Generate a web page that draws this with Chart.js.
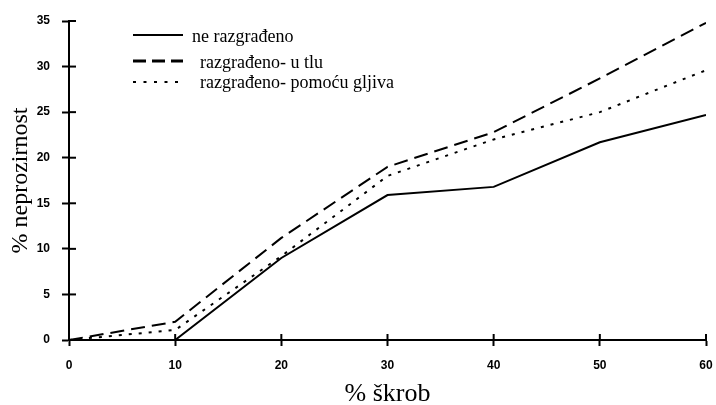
<!DOCTYPE html>
<html>
<head>
<meta charset="utf-8">
<script src="https://cdn.jsdelivr.net/npm/chart.js@4"></script>
<style>
  html, body { margin: 0; padding: 0; background: #fff; }
  #wrap { width: 716px; height: 405px; }
</style>
</head>
<body>
<div id="wrap"><canvas id="lineChart" width="716" height="405"></canvas></div>
<script>
// % škrob
const xValues = [0, 10, 20, 30, 40, 50, 60];
const seriesNames = ['ne razgrađeno', 'razgrađeno- u tlu', 'razgrađeno- pomoću gljiva'];
const neRazgradeno = [0, 0, 9.0, 15.9, 16.8, 21.7, 24.7];
const uTlu = [0, 2.0, 11.2, 19.0, 22.8, 28.7, 34.8];
const pomocuGljiva = [0, 1.1, 9.2, 18.0, 22.0, 25.0, 29.6];
const yTicks = [0, 5, 10, 15, 20, 25, 30, 35];

const dashes = [[], [14, 7], [3, 7]];
const serif = '"Liberation Serif", "Times New Roman", serif';

// tick marks that cross the axis, plus the legend in the upper left
const axisExtras = {
  id: 'axisExtras',
  afterDraw(chart) {
    const ctx = chart.ctx;
    const xs = chart.scales.x, ys = chart.scales.y;
    const area = chart.chartArea;
    ctx.save();
    ctx.strokeStyle = '#000';
    ctx.lineWidth = 2;
    yTicks.forEach(v => {
      const py = ys.getPixelForValue(v);
      ctx.beginPath();
      ctx.moveTo(area.left, py);
      ctx.lineTo(area.left + 7, py);
      ctx.stroke();
    });
    xValues.forEach(v => {
      const px = xs.getPixelForValue(v);
      ctx.beginPath();
      ctx.moveTo(px, area.bottom);
      ctx.lineTo(px, area.bottom - 6);
      ctx.stroke();
    });

    // legend
    const lineRows = [35, 61, 82];
    const textRows = [37, 63, 83];
    const textX = [192, 200, 200];
    ctx.font = '18px ' + serif;
    ctx.fillStyle = '#000';
    ctx.textBaseline = 'middle';
    chart.data.datasets.forEach((ds, i) => {
      ctx.setLineDash(i === 1 ? [13, 6] : i === 2 ? [3, 7.5] : []);
      ctx.lineWidth = i === 1 ? 3 : 2;
      ctx.beginPath();
      ctx.moveTo(133, lineRows[i]);
      ctx.lineTo(183, lineRows[i]);
      ctx.stroke();
      ctx.setLineDash([]);
      ctx.fillText(ds.label, textX[i], textRows[i]);
    });
    ctx.restore();
  }
};

const ctx = document.getElementById('lineChart').getContext('2d');

const chart = new Chart(ctx, {
  type: 'line',
  data: {
    datasets: [neRazgradeno, uTlu, pomocuGljiva].map((vals, i) => ({
      label: seriesNames[i],
      data: xValues.map((x, j) => ({ x: x, y: vals[j] })),
      borderColor: '#000',
      borderWidth: 2,
      borderDash: dashes[i],
      pointRadius: 0,
      tension: 0,
      fill: false,
    })),
  },
  options: {
    responsive: false,
    animation: false,
    layout: { padding: { left: 6, right: 10, top: 21, bottom: 0 } },
    plugins: {
      legend: { display: false },
      tooltip: { enabled: false },
    },
    scales: {
      x: {
        type: 'linear',
        min: 0,
        max: 60,
        afterFit: (scale) => {
          scale.height = 65;
          scale.paddingLeft = 0;
          scale.paddingRight = 0;
        },
        ticks: {
          stepSize: 10,
          color: '#000',
          padding: 12,
          font: { family: '"Liberation Sans", Arial, sans-serif', size: 12, weight: 'bold' },
        },
        grid: {
          drawOnChartArea: false,
          tickLength: 6,
          tickColor: '#000',
          tickWidth: 2,
        },
        border: { color: '#000', width: 2 },
        title: {
          display: true,
          text: '% škrob',
          color: '#000',
          font: { family: serif, size: 26 },
          padding: { top: 0, bottom: -5 },
        },
      },
      y: {
        min: 0,
        max: 35,
        afterFit: (scale) => {
          scale.width = 63;
          scale.paddingTop = 0;
          scale.paddingBottom = 0;
        },
        ticks: {
          stepSize: 5,
          color: '#000',
          padding: 12,
          font: { family: '"Liberation Sans", Arial, sans-serif', size: 12, weight: 'bold' },
        },
        grid: {
          drawOnChartArea: false,
          tickLength: 7,
          tickColor: '#000',
          tickWidth: 2,
        },
        border: { color: '#000', width: 2 },
        title: {
          display: true,
          text: '% neprozirnost',
          color: '#000',
          font: { family: serif, size: 24 },
          padding: { top: 0, bottom: 0 },
        },
      },
    },
  },
  plugins: [axisExtras],
});
</script>
</body>
</html>
